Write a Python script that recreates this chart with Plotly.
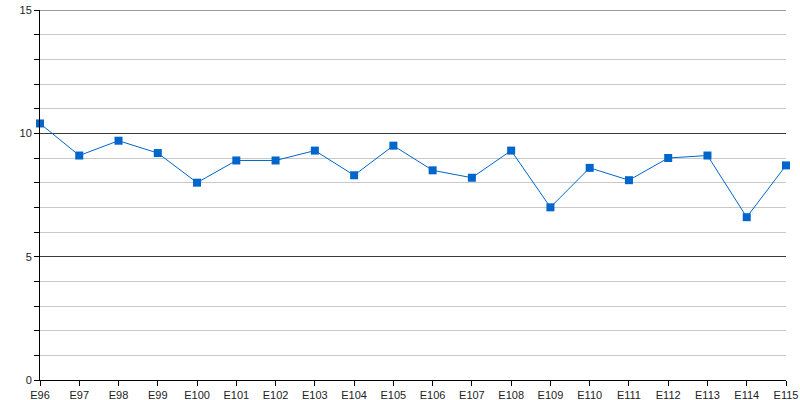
import plotly.graph_objects as go

# ── Data ──────────────────────────────────────────────────────────────────────

EPISODES = [f"E{n}" for n in range(96, 116)]
SCORES = [10.4, 9.1, 9.7, 9.2, 8.0, 8.9, 8.9, 9.3, 8.3, 9.5,
          8.5, 8.2, 9.3, 7.0, 8.6, 8.1, 9.0, 9.1, 6.6, 8.7]

Y_TICKS = [0, 5, 10, 15]

LINE_COLOR = "#0066cc"
MAJOR_GRID = "#3a3a3a"
MINOR_GRID = "#c8c8c8"

fig = go.Figure(go.Scatter(
    x=EPISODES,
    y=SCORES,
    mode="lines+markers",
    line=dict(color=LINE_COLOR, width=1),
    marker=dict(symbol="square", size=8, color=LINE_COLOR),
    showlegend=False,
    cliponaxis=False,
))

# plotly drops the gridline sitting on the top edge, so draw it by hand
fig.add_hline(y=Y_TICKS[-1], line_color=MAJOR_GRID, line_width=1, layer="below")

fig.update_layout(
    width=800,
    height=400,
    margin=dict(l=40, r=14, t=10, b=20, autoexpand=False),
    plot_bgcolor="white",
    paper_bgcolor="white",
    font=dict(family="Liberation Sans, Arial, sans-serif", size=11, color="#222222"),
    xaxis=dict(
        type="category",
        range=[0, len(EPISODES) - 1],
        automargin=False,
        showgrid=False,
        showline=True,
        linecolor="black",
        linewidth=1,
        ticks="outside",
        ticklen=5,
        tickcolor="black",
        tickfont=dict(size=11),
        ticklabeloverflow="allow",
        zeroline=False,
    ),
    yaxis=dict(
        range=[0, 15],
        tickvals=Y_TICKS,
        automargin=False,
        showgrid=True,
        gridcolor=MAJOR_GRID,
        gridwidth=1,
        showline=True,
        linecolor="black",
        linewidth=1,
        ticks="outside",
        ticklen=5,
        tickcolor="black",
        tickfont=dict(size=11),
        ticklabeloverflow="allow",
        zeroline=False,
        minor=dict(
            dtick=1,
            showgrid=True,
            gridcolor=MINOR_GRID,
            gridwidth=1,
            ticks="outside",
            ticklen=5,
            tickcolor="black",
        ),
    ),
)

# drop the default 8px body margin so the figure sits at the window corner
fig.write_html(
    "out.html",
    config={"displayModeBar": False},
    post_script="document.body.style.margin='0';",
)
